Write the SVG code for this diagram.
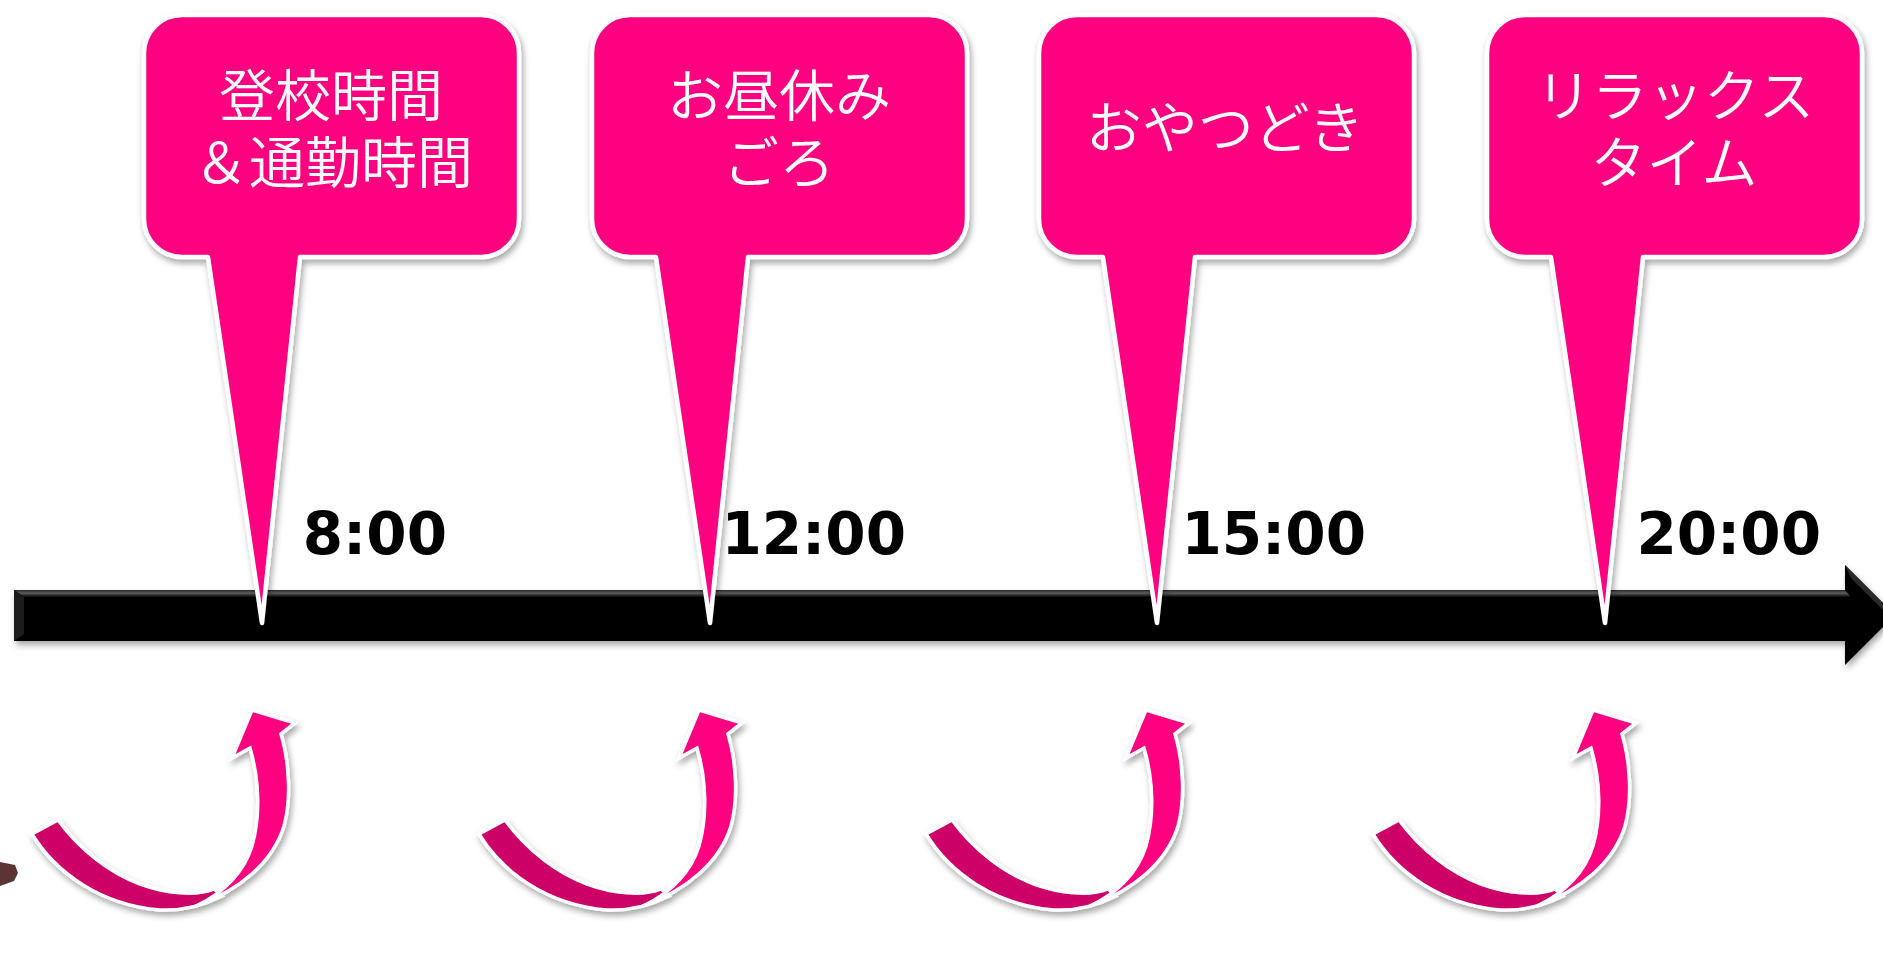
<svg xmlns="http://www.w3.org/2000/svg" xmlns:xlink="http://www.w3.org/1999/xlink" width="1883" height="975" viewBox="0 0 1883 975">
<style>
.bubble{fill:#FF0080;stroke:#FFFFFF;stroke-width:4.5;stroke-linejoin:round}
.btxt{font-family:"Noto Sans CJK JP","Noto Sans CJK SC",sans-serif;font-weight:350;font-size:56px;fill:#FFFFFF;text-anchor:middle}
.time{font-family:"DejaVu Sans","Liberation Sans",sans-serif;font-weight:bold;font-size:58px;fill:#000000;text-anchor:end}
.dark{fill:#CC0066;stroke:#FFFFFF;stroke-width:3.5;stroke-linejoin:miter}
.bright{fill:#FF0080;stroke:#FFFFFF;stroke-width:3.5;stroke-linejoin:miter}
</style>
<defs>
<filter id="sh" x="-20%" y="-20%" width="140%" height="140%">
<feDropShadow dx="2" dy="4" stdDeviation="3" flood-color="#000000" flood-opacity="0.35"/>
</filter>
<linearGradient id="bevel" x1="0" y1="0" x2="0" y2="1">
<stop offset="0" stop-color="#2a2a2a"/>
<stop offset="0.45" stop-color="#5a5a5a"/>
<stop offset="1" stop-color="#080808"/>
</linearGradient>
<path id="bub" class="bubble" d="M38,15 H337 A38,38 0 0 1 375,53 V219 A38,38 0 0 1 337,257 H156 L118,623 L64,257 H38 A38,38 0 0 1 0,219 V53 A38,38 0 0 1 38,15 Z"/>
<g id="curl">
<path class="dark" d="M32,834 C55,872 100,905 160,910 C182,911 202,906 222,896 L214,889 C195,897 165,893 140,884 C110,873 80,850 58,820 Z"/>
<path class="bright" d="M252,710 L295,723 L281,734 C290,765 291,800 284,826 C273,862 240,890 196,906 C224,893 244,872 252,846 C260,818 260,782 250,748 L232,758 Z"/>
</g>
</defs>
<rect width="1883" height="975" fill="#FFFFFF"/>

<g id="timeline-axis">
<path d="M14,590 H1845 V565 L1895,615 L1845,665 V641 H14 Z" fill="#060606" filter="url(#sh)"/>
<path d="M14,590 H1845 L1851,597 H24 Z" fill="url(#bevel)"/>
<path d="M14,590 L24,597 V634 L14,641 Z" fill="#1c1c1c"/>
<path d="M1845,565 L1895,615 L1888,615 L1851,578 Z" fill="#2a2a2a"/>
</g>

<g id="callout-1" filter="url(#sh)">
<use xlink:href="#bub" href="#bub" transform="translate(144,0)"/>
<text class="btxt" x="331" y="116">登校時間</text>
<text class="btxt" x="333" y="183">＆通勤時間</text>
</g>
<g id="callout-2" filter="url(#sh)">
<use xlink:href="#bub" href="#bub" transform="translate(592,0)"/>
<text class="btxt" x="779" y="116">お昼休み</text>
<text class="btxt" x="779" y="183">ごろ</text>
</g>
<g id="callout-3" filter="url(#sh)">
<use xlink:href="#bub" href="#bub" transform="translate(1039,0)"/>
<text class="btxt" x="1225" y="148">おやつどき</text>
</g>
<g id="callout-4" filter="url(#sh)">
<use xlink:href="#bub" href="#bub" transform="translate(1487,0)"/>
<text class="btxt" x="1675" y="116">リラックス</text>
<text class="btxt" x="1674" y="183">タイム</text>
</g>

<g id="time-labels">
<text class="time" x="447" y="554">8:00</text>
<text class="time" x="906" y="554">12:00</text>
<text class="time" x="1366" y="554">15:00</text>
<text class="time" x="1821" y="554">20:00</text>
</g>

<g id="connectors">
<g id="curl-1" filter="url(#sh)"><use xlink:href="#curl" href="#curl"/></g>
<g id="curl-2" filter="url(#sh)"><use xlink:href="#curl" href="#curl" transform="translate(447,0)"/></g>
<g id="curl-3" filter="url(#sh)"><use xlink:href="#curl" href="#curl" transform="translate(894,0)"/></g>
<g id="curl-4" filter="url(#sh)"><use xlink:href="#curl" href="#curl" transform="translate(1341,0)"/></g>
</g>

<g id="edge-object">
<path d="M0,862 L15,865 L18,873 L14,881 L0,886 Z" fill="#5B3535"/>
</g>
</svg>
